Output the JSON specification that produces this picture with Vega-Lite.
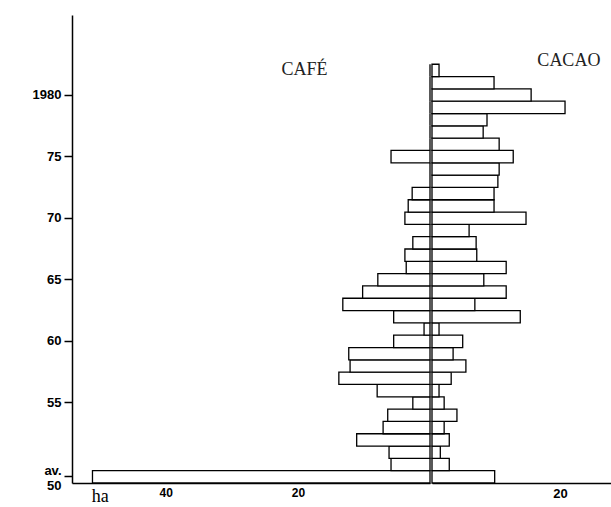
{
  "$schema": "https://vega.github.io/schema/vega-lite/v6.json",
  "padding": {"left": 10, "top": 15, "right": 0, "bottom": 0},
  "background": "white",
  "spacing": 0,
  "config": {
    "view": {"stroke": null},
    "axis": {"grid": false, "domainColor": "black", "domainWidth": 1.5, "tickColor": "black", "labelColor": "black", "labelFont": "Liberation Sans", "labelFontWeight": "bold", "labelFontSize": 13, "title": null}
  },
  "datasets": {
    "area": [
      {"year": "av.", "cafe": 51.1, "cacao": 9.8},
      {"year": "1950", "cafe": 5.9, "cacao": 2.7},
      {"year": "1951", "cafe": 6.2, "cacao": 1.3},
      {"year": "1952", "cafe": 11.1, "cacao": 2.7},
      {"year": "1953", "cafe": 7.1, "cacao": 1.9},
      {"year": "1954", "cafe": 6.4, "cacao": 3.9},
      {"year": "1955", "cafe": 2.6, "cacao": 1.9},
      {"year": "1956", "cafe": 8.0, "cacao": 1.1},
      {"year": "1957", "cafe": 13.8, "cacao": 3.0},
      {"year": "1958", "cafe": 12.1, "cacao": 5.3},
      {"year": "1959", "cafe": 12.3, "cacao": 3.3},
      {"year": "1960", "cafe": 5.5, "cacao": 4.8},
      {"year": "1961", "cafe": 0.9, "cacao": 1.1},
      {"year": "1962", "cafe": 5.5, "cacao": 13.8},
      {"year": "1963", "cafe": 13.2, "cacao": 6.7},
      {"year": "1964", "cafe": 10.2, "cacao": 11.6},
      {"year": "1965", "cafe": 7.9, "cacao": 8.1},
      {"year": "1966", "cafe": 3.6, "cacao": 11.6},
      {"year": "1967", "cafe": 3.8, "cacao": 7.0},
      {"year": "1968", "cafe": 2.6, "cacao": 6.9},
      {"year": "1969", "cafe": 0, "cacao": 5.8},
      {"year": "1970", "cafe": 3.8, "cacao": 14.7},
      {"year": "1971", "cafe": 3.3, "cacao": 9.7},
      {"year": "1972", "cafe": 2.7, "cacao": 9.7},
      {"year": "1973", "cafe": 0, "cacao": 10.3},
      {"year": "1974", "cafe": 0, "cacao": 10.5},
      {"year": "1975", "cafe": 5.9, "cacao": 12.7},
      {"year": "1976", "cafe": 0, "cacao": 10.5},
      {"year": "1977", "cafe": 0, "cacao": 8.0},
      {"year": "1978", "cafe": 0, "cacao": 8.6},
      {"year": "1979", "cafe": 0, "cacao": 20.8},
      {"year": "1980", "cafe": 0, "cacao": 15.5},
      {"year": "1981", "cafe": 0, "cacao": 9.7},
      {"year": "1982", "cafe": 0, "cacao": 1.1}
    ],
    "labels": [
      {"crop": "CAFÉ", "ha": 19, "year": "1982"},
      {"crop": "CACAO", "ha": 21.4, "year": "1983"}
    ]
  },
  "hconcat": [
    {
      "width": 358,
      "height": 468,
      "layer": [
        {
          "data": {"name": "area"},
          "mark": {"type": "bar", "fill": "white", "stroke": "black", "strokeWidth": 1.3},
          "encoding": {
            "y": {"field": "year", "type": "ordinal",
              "scale": {"domain": ["1986","1985","1984","1983","1982","1981","1980","1979","1978","1977","1976","1975","1974","1973","1972","1971","1970","1969","1968","1967","1966","1965","1964","1963","1962","1961","1960","1959","1958","1957","1956","1955","1954","1953","1952","1951","1950","av."], "paddingInner": 0, "paddingOuter": 0},
              "axis": {"values": ["1980","1975","1970","1965","1960","1955","av."], "labelExpr": "datum.value == '1980' ? '1980' : (datum.value == 'av.' ? ['av.', '50'] : substring(datum.value, 2))", "tickSize": 8, "tickWidth": 1.5, "labelPadding": 3, "minExtent": 62, "maxExtent": 62,
                "labelOffset": {"condition": {"test": "datum.value == 'av.'", "value": -6}, "value": 0}}},
            "x": {"field": "cafe", "type": "quantitative",
              "scale": {"domain": [0, 54.2], "reverse": true, "nice": false, "zero": true},
              "axis": {"values": [20, 40, 50], "ticks": false, "labelPadding": 4,
                "labelExpr": "datum.value == 50 ? 'ha' : datum.label",
                "labelFont": {"condition": {"test": "datum.value == 50", "value": "Liberation Serif"}, "value": "Liberation Sans"},
                "labelFontWeight": {"condition": {"test": "datum.value == 50", "value": "normal"}, "value": "bold"},
                "labelFontSize": {"condition": {"test": "datum.value == 50", "value": 18}, "value": 12}}}
          }
        },
        {
          "data": {"name": "labels"},
          "transform": [{"filter": "datum.crop == 'CAFÉ'"}],
          "mark": {"type": "text", "font": "Liberation Serif", "fontSize": 18, "fontWeight": "normal", "color": "#222"},
          "encoding": {
            "x": {"field": "ha", "type": "quantitative"},
            "y": {"field": "year", "type": "ordinal"},
            "text": {"field": "crop"}
          }
        }
      ]
    },
    {
      "width": 181,
      "height": 468,
      "layer": [
        {
          "data": {"name": "area"},
          "mark": {"type": "bar", "fill": "white", "stroke": "black", "strokeWidth": 1.3},
          "encoding": {
            "y": {"field": "year", "type": "ordinal",
              "scale": {"domain": ["1986","1985","1984","1983","1982","1981","1980","1979","1978","1977","1976","1975","1974","1973","1972","1971","1970","1969","1968","1967","1966","1965","1964","1963","1962","1961","1960","1959","1958","1957","1956","1955","1954","1953","1952","1951","1950","av."], "paddingInner": 0, "paddingOuter": 0},
              "axis": null},
            "x": {"field": "cacao", "type": "quantitative",
              "scale": {"domain": [0, 28.3], "nice": false, "zero": true},
              "axis": {"values": [20], "ticks": false, "labelPadding": 4}}
          }
        },
        {
          "data": {"name": "labels"},
          "transform": [{"filter": "datum.crop == 'CACAO'"}],
          "mark": {"type": "text", "font": "Liberation Serif", "fontSize": 18, "fontWeight": "normal", "color": "#222", "dy": 3},
          "encoding": {
            "x": {"field": "ha", "type": "quantitative"},
            "y": {"field": "year", "type": "ordinal"},
            "text": {"field": "crop"}
          }
        }
      ]
    }
  ]
}
